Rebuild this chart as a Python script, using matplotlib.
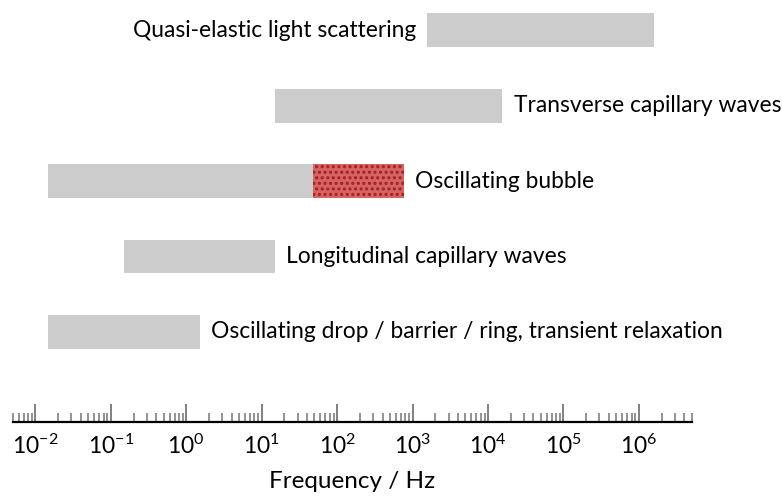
import numpy as np
import matplotlib
matplotlib.use("Agg")
import matplotlib.pyplot as plt
from matplotlib.ticker import LogFormatterMathtext, LogLocator, NullFormatter

plt.rcParams["font.family"] = ["Lato", "DejaVu Sans"]
plt.rcParams["mathtext.fontset"] = "dejavusans"
plt.rcParams["hatch.linewidth"] = 1.5

# rows from bottom to top
methods = [
    "Oscillating drop / barrier / ring, transient relaxation",
    "Longitudinal capillary waves",
    "Oscillating bubble",
    "Transverse capillary waves",
    "Quasi-elastic light scattering",
]
f_low = [0.0145, 0.149, 0.0145, 15.0, 1560.0]
f_high = [1.52, 15.0, 760.0, 1.55e4, 1.6e6]
label_side = ["right", "right", "right", "right", "left"]

# red highlighted part of the oscillating bubble range
bubble_row = 2
bubble_hl_low = 48.0
bubble_hl_high = 760.0

decades = [1e-2, 1e-1, 1e0, 1e1, 1e2, 1e3, 1e4, 1e5, 1e6]

fig = plt.figure(figsize=(7.82, 4.96), dpi=100)
ax = fig.add_axes([0.0162, 0.1498, 0.8683, 0.8502])

ypos = np.arange(len(methods))
for i in ypos:
    lo, hi = f_low[i], f_high[i]
    if i == bubble_row:
        ax.barh(i, bubble_hl_low - lo, left=lo, height=0.45, color="#cccccc", linewidth=0)
        ax.barh(i, bubble_hl_high - bubble_hl_low, left=bubble_hl_low, height=0.45,
                facecolor="#d26666", edgecolor="#b01a1a", hatch="...", linewidth=0)
    else:
        ax.barh(i, hi - lo, left=lo, height=0.45, color="#cccccc", linewidth=0)

    if label_side[i] == "left":
        ax.annotate(methods[i], xy=(lo, i), xytext=(-8, 0), textcoords="offset points",
                    ha="right", va="center", fontsize=16.4)
    else:
        ax.annotate(methods[i], xy=(hi, i), xytext=(8, 0), textcoords="offset points",
                    ha="left", va="center", fontsize=16.4)

ax.set_xscale("log")
ax.set_xlim(5e-3, 5e6)
ax.set_ylim(-1.19, 4.4)

ax.set_xticks(decades)
ax.xaxis.set_major_formatter(LogFormatterMathtext())
ax.xaxis.set_minor_locator(LogLocator(base=10, subs=np.arange(2, 10), numticks=100))
ax.xaxis.set_minor_formatter(NullFormatter())

for s in ["left", "right", "top"]:
    ax.spines[s].set_visible(False)
ax.spines["bottom"].set_linewidth(1.6)
ax.spines["bottom"].set_color("black")
ax.set_yticks([])

ax.tick_params(axis="x", which="major", direction="in", length=13, width=1.4,
               color="#808080", labelcolor="black", labelsize=16.5, pad=9)
ax.tick_params(axis="x", which="minor", direction="in", length=6.5, width=1.2,
               color="#808080")

ax.set_xlabel("Frequency / Hz", fontsize=17.5, labelpad=9)

fig.savefig("out.png", dpi=100)
